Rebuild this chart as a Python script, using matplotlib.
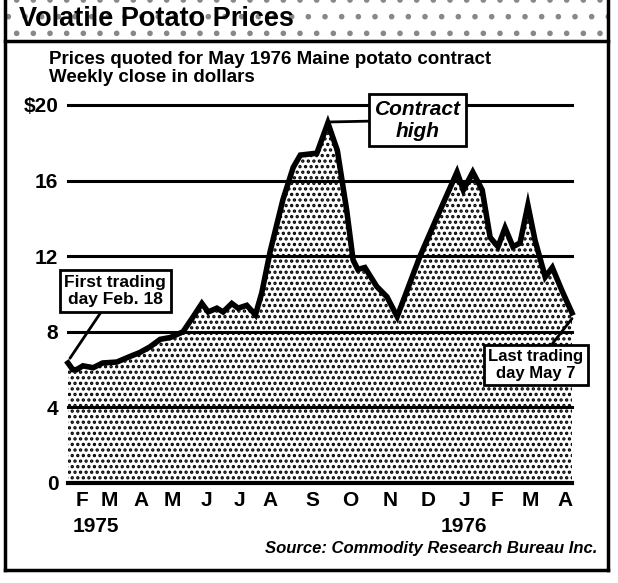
import matplotlib
matplotlib.use("Agg")
import matplotlib.pyplot as plt
from matplotlib.lines import Line2D
from matplotlib.patches import Rectangle

# weekly close, May 1976 Maine potato contract (weeks since Feb 18 1975)
weeks = [0.0, 0.6, 1.1, 1.9, 3.2, 4.4, 6.2, 7.9, 9.1, 10.4, 11.7, 13.0, 14.6,
         15.9, 17.0, 17.8, 18.9, 19.7, 20.8, 21.6, 22.7, 23.8, 24.6, 25.7,
         27.3, 28.6, 29.5, 31.6, 33.0, 34.2, 35.4, 36.2, 36.8, 37.7, 39.2,
         40.5, 41.8, 44.7, 46.9, 49.4, 50.2, 51.4, 52.6, 53.6, 54.6, 55.5,
         56.5, 57.4, 58.4, 59.3, 60.6, 61.5, 62.7, 64.0]
prices = [6.35, 6.0, 6.0, 6.2, 6.1, 6.35, 6.4, 6.7, 6.9, 7.2, 7.6, 7.7, 8.0,
          8.8, 9.5, 9.05, 9.25, 9.05, 9.5, 9.25, 9.4, 8.9, 10.05, 12.3,
          15.0, 16.7, 17.35, 17.45, 19.05, 17.6, 14.4, 11.8, 11.3, 11.4, 10.4,
          9.85, 8.8, 12.0, 14.1, 16.45, 15.5, 16.45, 15.5, 13.0, 12.5, 13.5,
          12.5, 12.7, 14.7, 12.85, 10.9, 11.4, 10.2, 9.0]

month_labels = ["F", "M", "A", "M", "J", "J", "A", "S", "O", "N", "D", "J", "F", "M", "A"]
month_pos = [1.8, 5.2, 9.3, 13.3, 17.6, 21.8, 25.7, 31.0, 35.9, 40.9, 45.7, 50.3, 54.5, 58.7, 63.1]
y_ticks = [0, 4, 8, 12, 16, 20]
y_labels = ["0", "4", "8", "12", "16", "$20"]

plt.rcParams["font.family"] = ["Liberation Sans Narrow", "Liberation Sans", "DejaVu Sans"]
plt.rcParams["hatch.linewidth"] = 1.6

fig = plt.figure(figsize=(6.18, 5.83), dpi=100)
fig.patch.set_facecolor("white")

# title band with a light stipple
band = Rectangle((5 / 618, 1 - 41 / 583), 603 / 618, 41 / 583, transform=fig.transFigure,
                 facecolor="white", edgecolor="#888888", hatch=".", lw=0, zorder=0)
fig.patches.append(band)
fig.text(19 / 618, 1 - 19 / 583, "Volatile Potato Prices", fontsize=19.5, fontweight="bold",
         va="center", ha="left", color="black")

# frame lines
for xs, ys, lw in [([5, 5], [0, 570], 2.5), ([608, 608], [0, 570], 2.5),
                   ([5, 608], [570, 570], 2.5), ([5, 608], [41, 41], 2.5)]:
    fig.add_artist(Line2D([x / 618 for x in xs], [1 - y / 583 for y in ys],
                          transform=fig.transFigure, color="black", lw=lw))

fig.text(49 / 618, 1 - 59 / 583, "Prices quoted for May 1976 Maine potato contract",
         fontsize=13.5, fontweight="bold", va="center")
fig.text(49 / 618, 1 - 78 / 583, "Weekly close in dollars",
         fontsize=13.5, fontweight="bold", va="center")

ax = fig.add_axes([68 / 618, 100 / 583, 504 / 618, 378 / 583])
ax.set_xlim(0, 64)
ax.set_ylim(0, 20)
for s in ax.spines.values():
    s.set_visible(False)

ax.fill_between(weeks, 0, prices, facecolor="white", edgecolor="black", hatch="...",
                lw=0, zorder=1)
for t in y_ticks:
    ax.axhline(t, color="black", lw=2.2 if t else 3, zorder=2, clip_on=False)
ax.plot(weeks, prices, color="black", lw=4, solid_joinstyle="miter", zorder=3, clip_on=False)

ax.set_yticks(y_ticks)
ax.set_yticklabels(y_labels, fontsize=15, fontweight="bold")
ax.set_xticks(month_pos)
ax.set_xticklabels(month_labels, fontsize=15, fontweight="bold")
ax.tick_params(length=0, pad=6)
ax.tick_params(axis="y", pad=7)

ax.text(0.6, -2.3, "1975", fontsize=15, fontweight="bold", ha="left", va="center")
ax.text(50.3, -2.3, "1976", fontsize=15, fontweight="bold", ha="center", va="center")

box = dict(boxstyle="square,pad=0.25", facecolor="white", edgecolor="black", lw=2)
line = dict(arrowstyle="-", color="black", lw=2, shrinkA=0, shrinkB=0)

ax.annotate("First trading\nday Feb. 18", xy=(0.25, 6.6), xytext=(6.0, 10.16),
            fontsize=12.5, fontweight="bold", ha="center", va="center",
            bbox=box, arrowprops=line, zorder=5, annotation_clip=False)
ax.annotate("Contract\nhigh", xy=(33.0, 19.1), xytext=(44.4, 19.2),
            fontsize=15, fontweight="bold", style="italic", ha="center", va="center",
            bbox=box, arrowprops=line, zorder=5, annotation_clip=False)
ax.annotate("Last trading\nday May 7", xy=(64.0, 8.7), xytext=(59.4, 6.24),
            fontsize=12, fontweight="bold", ha="center", va="center",
            bbox=box, arrowprops=line, zorder=5, annotation_clip=False)

fig.text(597 / 618, 1 - 548 / 583, "Source: Commodity Research Bureau Inc.",
         fontsize=12, fontweight="bold", style="italic", ha="right", va="center")

fig.savefig("out.png", dpi=100, facecolor="white")
